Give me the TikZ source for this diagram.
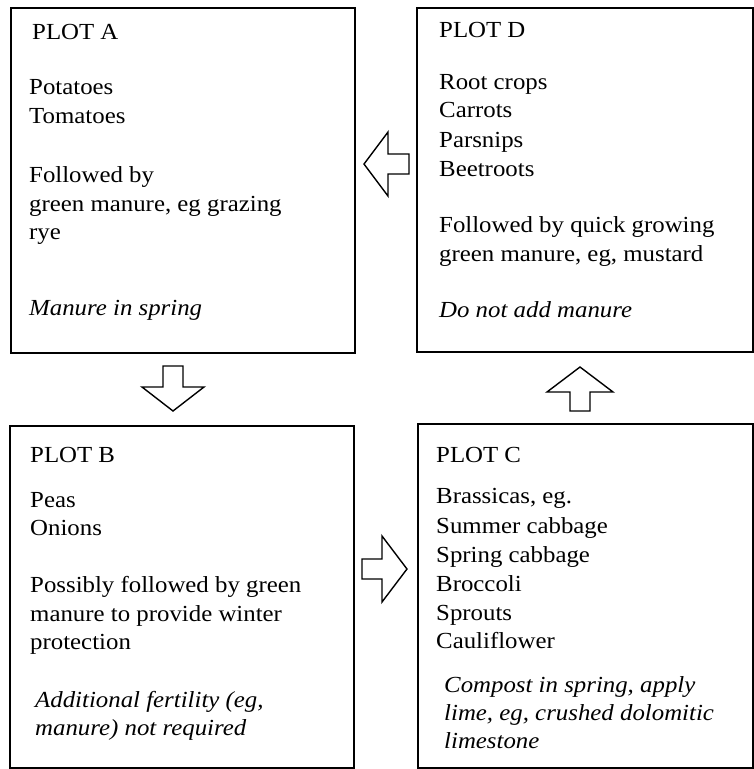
\documentclass[tikz,border=0pt]{standalone}
\usepackage{fontspec}
\setmainfont[FakeStretch=1.08]{Liberation Serif}
\begin{document}
\begin{tikzpicture}[x=1pt,y=-1pt,
  plotbox/.style={draw, line width=1.8pt, inner sep=0pt, anchor=north west},
  txt/.style={anchor=base west, inner sep=0pt, font=\fontsize{23}{28}\selectfont},
  itxt/.style={txt, font=\fontsize{23}{28}\selectfont\itshape},
  blockarrow/.style={draw, line width=1.4pt, fill=white, line join=miter}]
\useasboundingbox (0,0) rectangle (754,769);
% boxes
\node[plotbox, minimum width=344pt, minimum height=345pt] (boxA) at (10,7) {};
\node[plotbox, minimum width=336pt, minimum height=344pt] (boxD) at (416,7) {};
\node[plotbox, minimum width=344pt, minimum height=342pt] (boxB) at (9,425) {};
\node[plotbox, minimum width=335pt, minimum height=344pt] (boxC) at (417,423) {};
% Plot A
\node[txt] (a0) at (32,39) {PLOT A};
\node[txt] (a1) at (29,94) {Potatoes};
\node[txt] (a2) at (29,123) {Tomatoes};
\node[txt] (a3) at (29,182) {Followed by};
\node[txt] (a4) at (29,211) {green manure, eg grazing};
\node[txt] (a5) at (29,239) {rye};
\node[itxt] (a6) at (29,315) {Manure in spring};
% Plot D
\node[txt] (d0) at (439,37) {PLOT D};
\node[txt] (d1) at (439,89) {Root crops};
\node[txt] (d2) at (439,117) {Carrots};
\node[txt] (d3) at (439,147) {Parsnips};
\node[txt] (d4) at (439,176) {Beetroots};
\node[txt] (d5) at (439,232) {Followed by quick growing};
\node[txt] (d6) at (439,261) {green manure, eg, mustard};
\node[itxt] (d7) at (439,317) {Do not add manure};
% Plot B
\node[txt] (b0) at (30,462) {PLOT B};
\node[txt] (b1) at (30,507) {Peas};
\node[txt] (b2) at (30,535) {Onions};
\node[txt] (b3) at (30,592) {Possibly followed by green};
\node[txt] (b4) at (30,621) {manure to provide winter};
\node[txt] (b5) at (30,649) {protection};
\node[itxt] (b6) at (35,707) {Additional fertility (eg,};
\node[itxt] (b7) at (35,735) {manure) not required};
% Plot C
\node[txt] (c0) at (436,462) {PLOT C};
\node[txt] (c1) at (436,503) {Brassicas, eg.};
\node[txt] (c2) at (436,533) {Summer cabbage};
\node[txt] (c3) at (436,562) {Spring cabbage};
\node[txt] (c4) at (436,591) {Broccoli};
\node[txt] (c5) at (436,620) {Sprouts};
\node[txt] (c6) at (436,648) {Cauliflower};
\node[itxt] (c7) at (444,692) {Compost in spring, apply};
\node[itxt] (c8) at (444,720) {lime, eg, crushed dolomitic};
\node[itxt] (c9) at (444,748) {limestone};
% block arrows
% D -> A (left)
\draw[blockarrow] (364,164) -- (388,132) -- (388,154) -- (409,154) -- (409,174) -- (388,174) -- (388,196) -- cycle;
% A -> B (down)
\draw[blockarrow] (173,411) -- (142,387) -- (163,387) -- (163,366) -- (183,366) -- (183,387) -- (204,387) -- cycle;
% B -> C (right)
\draw[blockarrow] (407,569) -- (382,536) -- (382,559) -- (362,559) -- (362,579) -- (382,579) -- (382,602) -- cycle;
% C -> D (up)
\draw[blockarrow] (580,367) -- (547,392) -- (570,392) -- (570,411) -- (590,411) -- (590,392) -- (613,392) -- cycle;
\end{tikzpicture}
\end{document}
